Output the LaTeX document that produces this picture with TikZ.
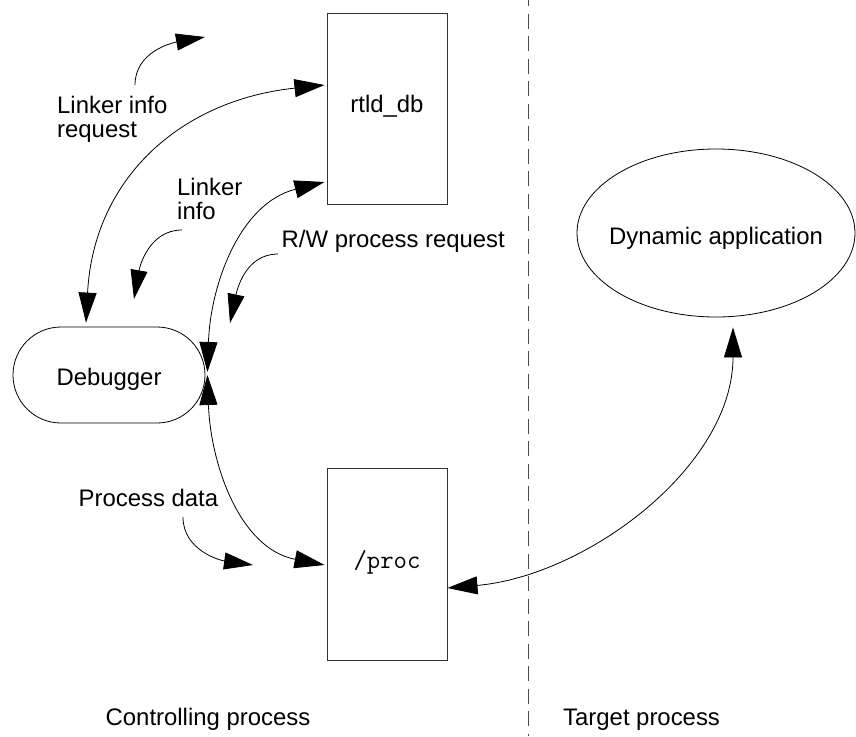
\documentclass[tikz,border=0pt]{standalone}
\usepackage{fontspec}
\setmainfont{Liberation Sans}
\usetikzlibrary{arrows.meta,shapes.geometric}
\begin{document}
\begin{tikzpicture}[x=1pt,y=-1pt,
  lbl/.style={font=\fontsize{23.9}{24.5}\selectfont, inner sep=0pt},
  inlbl/.style={lbl, text height=17pt, text depth=5pt},
  box/.style={draw=black!80, line width=1pt, minimum width=120pt, inner sep=0pt},
  conn/.style={line width=0.8pt, {Triangle[length=30pt,width=18pt]}-{Triangle[length=30pt,width=18pt]}},
  cue/.style={line width=0.8pt, -{Triangle[length=29pt,width=17pt]}},
  divider/.style={draw=black!70, line width=0.9pt, dash pattern=on 15pt off 7.5pt, dash phase=9pt},
]
\useasboundingbox (0,0) rectangle (856,736);

% shapes
\node[box, minimum height=191pt, label={[inlbl, yshift=2pt]center:rtld\_db}] (rtld) at (387,108.5) {};
\node[box, minimum height=192pt, label={[inlbl, font=\ttfamily\fontsize{26}{26}\selectfont, yshift=2pt]center:/proc}] (proc) at (387,564) {};
\node[draw, line width=0.8pt, rounded corners=47.9pt, minimum width=192pt, minimum height=96pt, inner sep=0pt,
      label={[inlbl, yshift=-4pt]center:Debugger}] (dbg) at (109,375) {};
\node[ellipse, draw, line width=0.8pt, minimum width=278pt, minimum height=168pt, inner sep=0pt,
      label={[inlbl, yshift=-5pt]center:Dynamic application}] (dyn) at (716,233) {};

% divider
\coordinate (dtop) at (528.7,0);
\coordinate (dbot) at (528.7,736);
\draw[divider] (dtop) -- (dbot);

% connectors
\draw[conn] ([xshift=-23pt,yshift=4pt]dbg.north) to[out=87,in=186,looseness=1.1] ([xshift=-2pt,yshift=23.5pt]rtld.west);
\draw[conn] ([xshift=2pt,yshift=3pt]dbg.east) to[out=88,in=194] ([xshift=-2pt,yshift=-73.5pt]rtld.west);
\draw[conn] ([xshift=2pt]dbg.east) to[out=-88,in=169] ([xshift=-2pt,yshift=-1pt]proc.west);
\draw[conn] ([yshift=-24pt]proc.east) to[out=5,in=-90,looseness=0.92] ([xshift=17pt,yshift=-10pt]dyn.south);

% flow cues
\coordinate (a0) at (135,85);  \coordinate (a1) at (205,37);
\coordinate (b0) at (182,230); \coordinate (b1) at (134,299);
\coordinate (c0) at (278,254); \coordinate (c1) at (230,323);
\coordinate (d0) at (183,517); \coordinate (d1) at (253,565);
\draw[cue] (a0) to[out=90,in=190] (a1);
\draw[cue] (b0) to[out=180,in=80] (b1);
\draw[cue] (c0) to[out=180,in=78] (c1);
\draw[cue] (d0) to[out=-90,in=172] (d1);

% labels
\node[lbl, anchor=base west, align=left] (lir) at (57,137.8) {Linker info\\request};
\node[lbl, anchor=base west, align=left] (li) at (177,219.5) {Linker\\info};
\node[lbl, anchor=base west] (rw) at (281.5,247.3) {R/W process request};
\node[lbl, anchor=base west] (pd) at (78.5,506) {Process data};
\node[lbl, anchor=base west] (cp) at (105.5,725) {Controlling process};
\node[lbl, anchor=base west] (tp) at (563,725) {Target process};
\end{tikzpicture}
\end{document}
